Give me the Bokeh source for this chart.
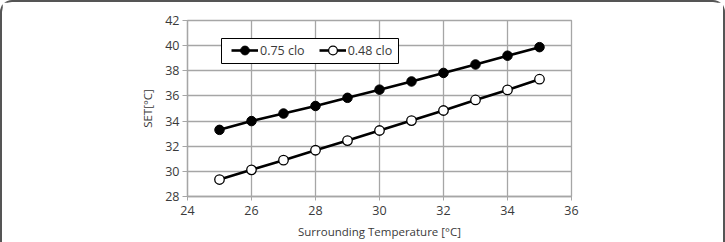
from bokeh.plotting import figure
from bokeh.models import Legend, LegendItem, FixedTicker, Range1d, BoxAnnotation
from bokeh.embed import file_html
from bokeh.resources import INLINE

temps = [25, 26, 27, 28, 29, 30, 31, 32, 33, 34, 35]
set_075 = [33.3, 34.0, 34.6, 35.2, 35.85, 36.5, 37.15, 37.83, 38.5, 39.2, 39.88]
set_048 = [29.35, 30.12, 30.89, 31.68, 32.45, 33.25, 34.04, 34.84, 35.68, 36.48, 37.33]
x_ticks = [24, 26, 28, 30, 32, 34, 36]
y_ticks = [28, 30, 32, 34, 36, 38, 40, 42]
label_075 = "0.75 clo"
label_048 = "0.48 clo"

FONT = "Open Sans"
GRID = "#a6a6a6"
TXT = "#3a3a3a"

p = figure(width=725, height=242, output_backend="svg", toolbar_location=None,
           x_range=Range1d(24, 36), y_range=Range1d(28, 42),
           min_border_left=185, min_border_right=156, min_border_top=18, min_border_bottom=48)
p.styles = {"border-style": "solid solid none solid", "border-width": "2px",
            "border-color": "#555555", "border-radius": "12px 12px 0 0",
            "box-sizing": "border-box"}

p.xaxis.ticker = FixedTicker(ticks=x_ticks)
p.yaxis.ticker = FixedTicker(ticks=y_ticks)
p.xgrid.ticker = FixedTicker(ticks=x_ticks)
p.ygrid.ticker = FixedTicker(ticks=y_ticks)
for g in (p.xgrid, p.ygrid):
    g.grid_line_color = GRID
    g.grid_line_width = 1.3
p.outline_line_color = GRID
p.outline_line_width = 1.3

for ax in (p.xaxis, p.yaxis):
    ax.axis_line_color = GRID
    ax.axis_line_width = 1.3
    ax.major_tick_line_color = GRID
    ax.minor_tick_line_color = None
    ax.major_tick_in = 0
    ax.major_label_text_font = FONT
    ax.major_label_text_font_size = "12.5px"
    ax.major_label_text_color = TXT
    ax.axis_label_text_font = FONT
    ax.axis_label_text_font_size = "11.5px"
    ax.axis_label_text_font_style = "normal"
    ax.axis_label_text_color = TXT
p.xaxis.major_tick_out = 4
p.yaxis.major_tick_out = 5
p.xaxis.major_label_standoff = 5
p.yaxis.major_label_standoff = 3
p.xaxis.axis_label = "Surrounding Temperature [\u00b0C]"
p.yaxis.axis_label = "SET[\u00b0C]"
p.xaxis.axis_label_standoff = 6
p.yaxis.axis_label_standoff = 7

l1 = p.line(temps, set_075, line_color="black", line_width=2.6)
s1 = p.scatter(temps, set_075, size=9.5, marker="circle", fill_color="black", line_color="black")
l2 = p.line(temps, set_048, line_color="black", line_width=2.6)
s2 = p.scatter(temps, set_048, size=9.5, marker="circle", fill_color="white", line_color="black", line_width=1.3)

box = BoxAnnotation(left=217, right=394, top=34, bottom=59,
                    left_units="canvas", right_units="canvas", top_units="canvas", bottom_units="canvas",
                    fill_color="white", fill_alpha=1, line_color="black", line_width=1, line_alpha=1)
p.add_layout(box)

legend = Legend(items=[LegendItem(label=label_075, renderers=[l1, s1]),
                       LegendItem(label=label_048, renderers=[l2, s2])],
                orientation="horizontal", location=(44, 135),
                border_line_color=None, background_fill_alpha=0,
                glyph_width=27, glyph_height=22,
                label_text_font=FONT, label_text_font_size="12.5px", label_text_color=TXT,
                label_standoff=2, spacing=14, padding=1, margin=0)
p.add_layout(legend, "center")

open("out.html", "w").write(file_html(p, INLINE))
